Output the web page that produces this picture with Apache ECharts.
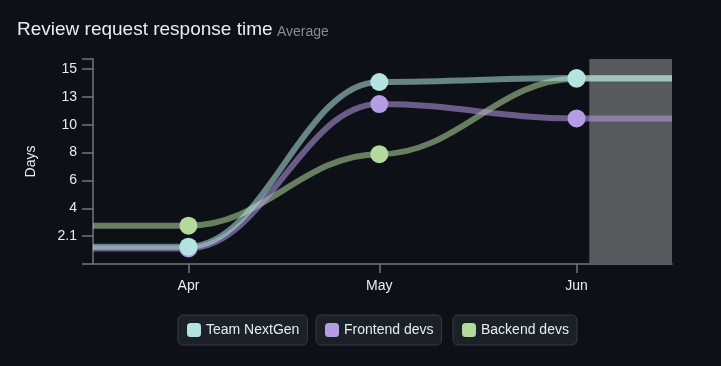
<!DOCTYPE html>
<html>
<head>
<meta charset="utf-8">
<script src="https://cdn.jsdelivr.net/npm/echarts@6/dist/echarts.min.js"></script>
<style>
  html, body { margin: 0; padding: 0; background: #0d1117; }
  #chart { width: 721px; height: 366px; }
</style>
</head>
<body>
<div id="chart"></div>
<script>
// ---- data ----
const months = ['Apr', 'May', 'Jun'];
const monthDates = ['2024-04-01', '2024-05-01', '2024-06-01'];
const rangeStart = '2024-03-17';
const rangeEnd = '2024-06-16';
const incompleteStart = '2024-06-03';
const seriesNames = ['Team NextGen', 'Frontend devs', 'Backend devs'];
const teamNextGen = [1.33, 14.0, 14.3];
const frontendDevs = [1.2, 12.3, 11.2];
const backendDevs = [2.95, 8.45, 14.25];
const yTickLabels = ['2.1', '4', '6', '8', '10', '13', '15'];
const yTickValues = [15 / 7, 30 / 7, 45 / 7, 60 / 7, 75 / 7, 90 / 7, 15];
const yMax = 15.77;

const colors = ['#b3e4e1', '#b69ce3', '#b4d99c'];

function ts(s) {
  const p = s.split('-').map(Number);
  return Date.UTC(p[0], p[1] - 1, p[2]);
}
function hexA(hex, a) {
  const n = parseInt(hex.slice(1), 16);
  return 'rgba(' + ((n >> 16) & 255) + ',' + ((n >> 8) & 255) + ',' + (n & 255) + ',' + a + ')';
}
const monthTs = monthDates.map(ts);

function buildData(vals) {
  const d = [{ value: [ts(rangeStart), vals[0]], symbol: 'none' }];
  vals.forEach((v, i) => d.push({ value: [monthTs[i], v] }));
  d.push({ value: [ts(rangeEnd), vals[vals.length - 1]], symbol: 'none' });
  return d;
}

const allVals = [teamNextGen, frontendDevs, backendDevs];
const series = seriesNames.map((name, i) => ({
  name: name,
  type: 'line',
  data: buildData(allVals[i]),
  smooth: 0.4,
  smoothMonotone: 'x',
  symbol: 'circle',
  symbolSize: 18,
  z: 5 - i,
  lineStyle: { width: 6, color: hexA(colors[i], 0.55) },
  itemStyle: { color: colors[i], opacity: 1 },
  emphasis: { disabled: true },
  markArea: i === 2 ? {
    silent: true,
    itemStyle: { color: '#58595d' },
    data: [[{ xAxis: ts(incompleteStart) }, { xAxis: ts(rangeEnd) }]]
  } : undefined
}));

const legendLefts = [178, 316, 453];
const legends = seriesNames.map((name, i) => ({
  data: [name],
  left: legendLefts[i],
  top: 315,
  orient: 'horizontal',
  padding: [8, 8, 8, 9],
  backgroundColor: '#1c2128',
  borderColor: '#363b44',
  borderWidth: 1,
  borderRadius: 5,
  itemWidth: 14,
  itemHeight: 14,
  itemGap: 5,
  icon: 'roundRect',
  textStyle: { color: '#e6edf3', fontSize: 14, fontFamily: 'Liberation Sans' },
  selectedMode: false
}));

const chart = echarts.init(document.getElementById('chart'), null, { renderer: 'canvas' });
chart.setOption({
  backgroundColor: '#0d1117',
  animation: false,
  color: colors,
  textStyle: { fontFamily: 'Liberation Sans' },
  title: [
    { text: 'Review request response time', left: 17, top: 20, padding: 0,
      textStyle: { color: '#e6edf3', fontSize: 19, fontWeight: 'normal', fontFamily: 'Liberation Sans' } },
    { text: 'Average', left: 277, top: 25, padding: 0,
      textStyle: { color: '#848d97', fontSize: 14, fontWeight: 'normal', fontFamily: 'Liberation Sans' } }
  ],
  legend: legends,
  grid: { left: 93, right: 49, top: 59, bottom: 102, containLabel: false },
  xAxis: {
    type: 'value',
    min: ts(rangeStart),
    max: ts(rangeEnd),
    splitLine: { show: false },
    axisLine: { show: true, lineStyle: { color: '#6e7681', width: 1.5 } },
    axisTick: { show: true, length: 9, customValues: monthTs, lineStyle: { color: '#6e7681', width: 1.5 } },
    axisLabel: {
      customValues: monthTs,
      color: '#e6edf3', fontSize: 14, margin: 15,
      formatter: function (v) {
        let best = 0;
        monthTs.forEach((t, i) => { if (Math.abs(t - v) < Math.abs(monthTs[best] - v)) best = i; });
        return months[best];
      }
    }
  },
  yAxis: {
    type: 'value',
    min: 0,
    max: yMax,
    name: 'Days',
    nameLocation: 'middle',
    nameGap: 55,
    nameTextStyle: { color: '#e6edf3', fontSize: 14 },
    splitLine: { show: false },
    axisLine: { show: true, lineStyle: { color: '#6e7681', width: 1.5 } },
    axisTick: { show: true, length: 11, customValues: [0].concat(yTickValues, [yMax]), lineStyle: { color: '#6e7681', width: 1.5 } },
    axisLabel: {
      customValues: yTickValues,
      color: '#e6edf3', fontSize: 14, margin: 16,
      formatter: function (v) {
        let best = 0;
        yTickValues.forEach((t, i) => { if (Math.abs(t - v) < Math.abs(yTickValues[best] - v)) best = i; });
        return yTickLabels[best];
      }
    }
  },
  series: series
});
</script>
</body>
</html>
